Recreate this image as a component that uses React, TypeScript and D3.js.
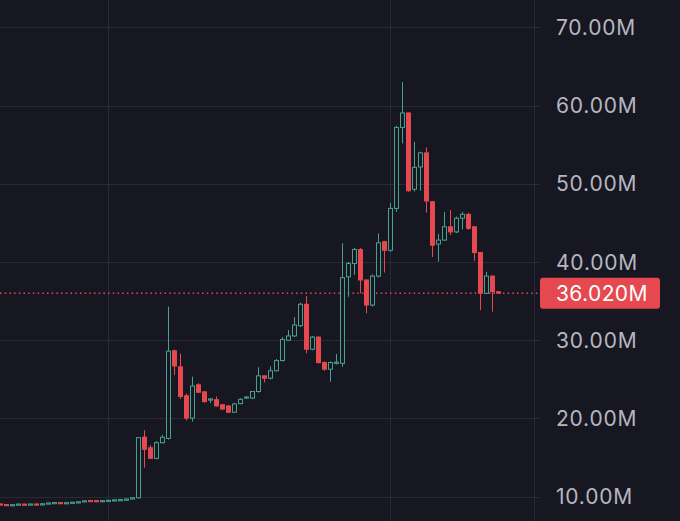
import { useEffect, useRef } from 'react';
import * as d3 from 'd3';

// OHLC values in millions, one candle per slot
const opens = [
  9.08, 9.0, 8.9, 8.98, 9.06, 9.0, 9.07, 9.02, 9.1, 9.18, 9.25, 9.16, 9.22, 9.28, 9.36, 9.52, 9.5, 9.42, 9.48, 9.52, 9.56, 9.6, 9.7,
  9.86, 17.62, 16.25, 14.9, 16.9, 17.45, 28.65, 26.6, 22.9, 20.05, 24.3, 23.4, 22.35, 22.4, 21.75, 21.6, 20.8, 21.9, 22.6, 22.6,
  23.45, 25.45, 25.15, 26.1, 27.4, 30.0, 30.55, 31.85, 34.6, 28.85, 30.4, 27.15, 26.3, 27.1, 27.05, 38.1, 39.8, 41.6, 37.7, 34.5,
  38.2, 42.6, 41.5, 46.85, 57.2, 59.05, 49.3, 52.15, 53.95, 47.7, 42.3, 42.8, 44.5, 43.85, 45.6, 46.1, 44.5, 41.2, 36.0, 38.2, 36.2,
];
const highs = [
  9.1, 9.02, 9.0, 9.08, 9.08, 9.09, 9.09, 9.12, 9.22, 9.27, 9.27, 9.26, 9.32, 9.37, 9.5, 9.54, 9.52, 9.52, 9.57, 9.62, 9.65, 9.72, 9.88,
  17.6, 18.5, 16.6, 17.1, 17.9, 34.3, 28.8, 28.3, 23.2, 25.35, 24.5, 23.5, 22.55, 22.8, 21.85, 21.7, 22.0, 22.6, 22.85, 23.5,
  26.55, 25.5, 26.65, 27.6, 30.4, 31.3, 32.95, 34.8, 35.65, 30.55, 30.5, 27.3, 27.3, 28.25, 42.4, 40.0, 41.8, 41.8, 37.8, 38.4,
  43.65, 42.7, 47.55, 57.4, 63.0, 59.1, 55.35, 54.1, 54.65, 47.8, 43.6, 46.4, 46.65, 45.8, 46.4, 46.3, 44.6, 41.3, 38.75, 38.3, 36.3,
];
const lows = [
  8.98, 8.92, 8.88, 8.96, 8.97, 8.98, 8.98, 9.0, 9.08, 9.16, 9.14, 9.14, 9.2, 9.26, 9.34, 9.43, 9.4, 9.4, 9.46, 9.5, 9.54, 9.58, 9.68,
  9.8, 13.7, 14.85, 14.8, 16.8, 17.3, 25.55, 22.5, 19.75, 19.6, 23.3, 22.0, 21.95, 21.5, 21.1, 20.7, 20.7, 21.8, 22.5, 22.5,
  23.3, 24.6, 25.0, 26.0, 27.3, 29.9, 30.4, 31.7, 28.35, 28.7, 27.0, 26.1, 24.7, 26.9, 26.6, 35.55, 38.35, 36.0, 33.45, 34.3,
  38.0, 38.65, 41.3, 46.4, 55.15, 49.0, 49.0, 49.1, 46.3, 40.65, 40.05, 42.7, 43.45, 43.7, 44.15, 44.1, 40.15, 33.85, 35.9, 33.65, 35.95,
];
const closes = [
  9.0, 8.94, 8.98, 9.06, 8.99, 9.07, 9.0, 9.1, 9.2, 9.25, 9.16, 9.24, 9.3, 9.35, 9.48, 9.45, 9.42, 9.5, 9.55, 9.6, 9.63, 9.7, 9.86,
  17.55, 16.05, 14.9, 16.9, 17.6, 28.6, 26.7, 22.8, 20.05, 24.15, 23.35, 22.15, 22.5, 21.6, 21.2, 20.8, 21.85, 22.45, 22.75, 23.45,
  25.45, 25.15, 26.1, 27.4, 30.1, 30.55, 31.95, 34.6, 28.85, 30.4, 27.15, 26.3, 27.15, 27.2, 38.0, 39.8, 41.6, 37.7, 34.5, 38.2,
  42.45, 41.5, 46.85, 57.2, 59.05, 49.1, 52.1, 53.95, 47.8, 42.15, 42.8, 44.5, 43.85, 45.6, 46.1, 44.3, 41.2, 36.0, 38.2, 36.2, 36.02,
];
const yTicks = [10, 20, 30, 40, 50, 60, 70];
const lastPrice = 36.02;

const BG = '#171722';
const GREEN = '#46a28f';
const RED = '#e5484f';
const GRID = '#2a2a37';

export default function App() {
  const svgRef = useRef<SVGSVGElement>(null);

  useEffect(() => {
    if (!svgRef.current) return;
    const svg = d3.select(svgRef.current);
    svg.selectAll('*').remove();

    const width = 680;
    const height = 521;
    const plotRight = 540;

    const x = d3.scaleLinear().domain([0, opens.length - 1]).range([0.5, 498.5]);
    const y = d3.scaleLinear().domain([10, 70]).range([496.7, 27.3]);

    svg.append('rect').attr('width', width).attr('height', height).attr('fill', BG);

    // horizontal grid
    svg.append('g')
      .selectAll('line')
      .data(yTicks)
      .join('line')
      .attr('x1', 0)
      .attr('x2', plotRight)
      .attr('y1', d => Math.round(y(d)) + 0.5)
      .attr('y2', d => Math.round(y(d)) + 0.5)
      .attr('stroke', GRID)
      .attr('stroke-width', 1);

    // vertical grid
    svg.append('g')
      .selectAll('line')
      .data([108, 390, 534])
      .join('line')
      .attr('x1', d => d + 0.5)
      .attr('x2', d => d + 0.5)
      .attr('y1', 0)
      .attr('y2', height)
      .attr('stroke', GRID)
      .attr('stroke-width', 1);

    // last price line
    svg.append('line')
      .attr('x1', 0)
      .attr('x2', plotRight)
      .attr('y1', y(lastPrice))
      .attr('y2', y(lastPrice))
      .attr('stroke', RED)
      .attr('stroke-width', 1.5)
      .attr('stroke-dasharray', '1.5,3.2');

    const idx = d3.range(opens.length);
    const candles = svg.append('g');

    // wicks
    candles.selectAll('line.wick')
      .data(idx)
      .join('line')
      .attr('class', 'wick')
      .attr('x1', i => x(i))
      .attr('x2', i => x(i))
      .attr('y1', i => y(highs[i]))
      .attr('y2', i => y(lows[i]))
      .attr('stroke', i => (closes[i] >= opens[i] ? GREEN : RED))
      .attr('stroke-width', 1);

    // bodies: green hollow, red filled
    candles.selectAll('rect.body')
      .data(idx)
      .join('rect')
      .attr('class', 'body')
      .attr('x', i => x(i) - 2)
      .attr('width', 4)
      .attr('y', i => y(Math.max(opens[i], closes[i])))
      .attr('height', i => Math.max(1.2, Math.abs(y(opens[i]) - y(closes[i]))))
      .attr('fill', i => (closes[i] >= opens[i] ? BG : RED))
      .attr('stroke', i => (closes[i] >= opens[i] ? GREEN : RED))
      .attr('stroke-width', 1);

    // y axis labels
    svg.append('g')
      .selectAll('text')
      .data(yTicks)
      .join('text')
      .attr('x', 556)
      .attr('y', d => y(d))
      .attr('dominant-baseline', 'central')
      .attr('fill', '#b6b6bf')
      .attr('font-family', 'Inter, "Noto Sans", sans-serif')
      .attr('font-size', 21)
      .attr('letter-spacing', 0.8)
      .text(d => `${d.toFixed(2)}M`);

    // last price badge
    const py = y(lastPrice);
    svg.append('rect')
      .attr('x', 540)
      .attr('y', py - 15.5)
      .attr('width', 120)
      .attr('height', 31)
      .attr('rx', 3)
      .attr('fill', RED);
    svg.append('text')
      .attr('x', 556)
      .attr('y', py)
      .attr('dominant-baseline', 'central')
      .attr('fill', '#ffffff')
      .attr('font-family', 'Inter, "Noto Sans", sans-serif')
      .attr('font-size', 21)
      .attr('letter-spacing', 0.4)
      .text(`${lastPrice.toFixed(3)}M`);
  }, []);

  return (
    <>
      <style>{`body{margin:0;background:${BG};}`}</style>
      <svg ref={svgRef} width={680} height={521} style={{ display: 'block' }} />
    </>
  );
}
